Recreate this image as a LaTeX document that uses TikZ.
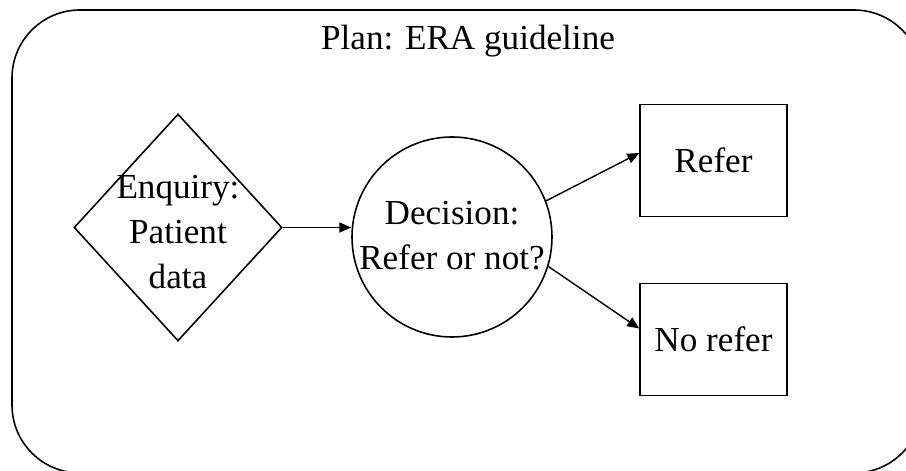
\documentclass[tikz,border=0pt]{standalone}
\usepackage{fontspec}
\setmainfont{Liberation Serif}
\usetikzlibrary{shapes.geometric,arrows.meta}

\tikzset{
  txt/.style={font=\fontsize{20}{25.5}\selectfont, align=center, inner sep=0pt},
  box/.style={draw, line width=0.9pt, minimum width=2.94cm, minimum height=2.24cm, inner sep=0pt},
  arr/.style={line width=0.8pt, -{Triangle[length=6.8pt,width=5.8pt]}}
}

\begin{document}
\begin{tikzpicture}
\useasboundingbox (0, 0) rectangle (18.12, 9.42);
\clip (0, 0) rectangle (18.12, 9.42);
\draw[line width=0.9pt, rounded corners=1.36cm] (0.24, -0.04) rectangle (18.44, 9.22);

\node[txt] (title) at (9.36, 8.6) {Plan: ERA guideline};

\node[draw, diamond, line width=0.9pt, minimum width=4.16cm, minimum height=4.54cm, inner sep=0pt] (enq) at (3.56, 4.87) {};
\node[txt] (enqtxt) at (3.56, 4.78) {Enquiry:\\Patient\\data};

\node[draw, circle, line width=0.9pt, minimum size=4.0cm, inner sep=0pt] (dec) at (9.04, 4.68) {};
\node[txt] (dectxt) at (9.04, 4.7) {Decision:\\Refer or not?};

\node[box, txt] (refer) at (14.27, 6.21) {Refer};
\node[box, txt] (norefer) at (14.27, 2.63) {No refer};

\draw[arr] (enq.east) to (dec.west |- enq.east);
\draw[arr] (dec.21) to ([yshift=0.15cm]refer.west);
\draw[arr] (dec.-17) to ([yshift=0.22cm]norefer.west);

\end{tikzpicture}
\end{document}
